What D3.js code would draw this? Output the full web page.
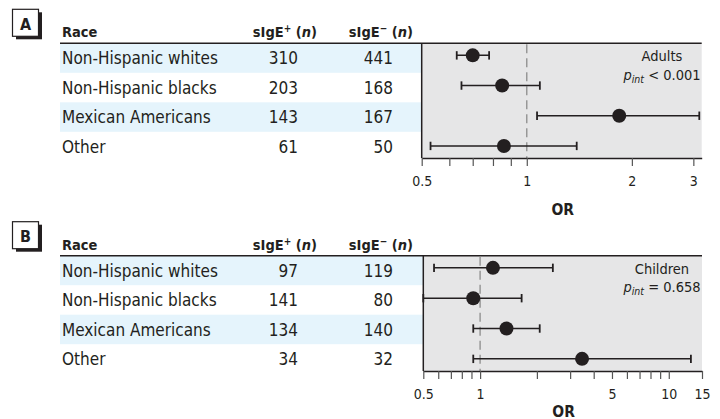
<!DOCTYPE html>
<meta charset="utf-8">
<style>
body { margin: 0; background: #fff; }
svg text { font-family: 'DejaVu Sans Condensed', 'DejaVu Sans', sans-serif; fill: #231f20; }
.hdr { font-weight: bold; font-size: 14.5px; }
</style>
<body>
<script src="https://cdn.jsdelivr.net/npm/d3@7"></script>
<script>
// ---- data ----
var races = ["Non-Hispanic whites", "Non-Hispanic blacks", "Mexican Americans", "Other"];

var adultPos = [310, 203, 143, 61];
var adultNeg = [441, 168, 167, 50];
var adultOR  = [0.70, 0.85, 1.84, 0.86];
var adultLo  = [0.63, 0.65, 1.07, 0.53];
var adultHi  = [0.78, 1.09, 3.12, 1.39];

var childPos = [97, 141, 134, 34];
var childNeg = [119, 80, 140, 32];
var childOR  = [1.17, 0.92, 1.38, 3.47];
var childLo  = [0.57, 0.50, 0.92, 0.92];
var childHi  = [2.43, 1.66, 2.07, 13.1];

var adultTicks  = [0.5, 0.6, 0.7, 0.8, 0.9, 1, 2, 3];
var adultLabels = [0.5, 1, 2, 3];
var childTicks  = [0.5, 0.6, 0.7, 0.8, 0.9, 1, 2, 3, 4, 5, 6, 7, 8, 9, 10, 15];
var childLabels = [0.5, 1, 5, 10, 15];

var svg = d3.select("body").append("svg")
    .attr("width", 720).attr("height", 419);

var ink = "#231f20";

function drawPanel(p) {
  var g = svg.append("g");
  var x = d3.scaleLog().domain(p.domain).range([p.left, p.right]);
  var yRow = d3.scaleBand().domain(races).range([p.top, p.top + 4 * 29.5]);
  var yPt = d3.scalePoint().domain(races).range([p.top, p.bottom]).padding(0.4);
  var rows = races.map(function(r, i) {
    return {race: r, pos: p.pos[i], neg: p.neg[i], or: p.or[i], lo: p.lo[i], hi: p.hi[i], i: i};
  });

  // panel letter box with drop shadow
  g.append("rect").attr("x", 16).attr("y", p.top - 31).attr("width", 26).attr("height", 27).attr("fill", ink);
  g.append("rect").attr("x", 12.5).attr("y", p.top - 34).attr("width", 26).attr("height", 27)
    .attr("fill", "#fff").attr("stroke", ink).attr("stroke-width", 1.2);
  g.append("text").attr("x", 25.5).attr("y", p.top - 13.5).attr("text-anchor", "middle")
    .style("font-weight", "bold").style("font-size", "16px").text(p.letter);

  // shaded table rows
  g.selectAll(".band").data(rows.filter(function(d) { return d.i % 2 == 0; }))
    .enter().append("rect")
    .attr("x", 60).attr("width", p.left - 60)
    .attr("y", function(d) { return yRow(d.race); })
    .attr("height", yRow.bandwidth())
    .attr("fill", "#e5f4fc");

  // plot background
  g.append("rect").attr("x", p.left).attr("y", p.top)
    .attr("width", p.right - p.left).attr("height", p.bottom - p.top)
    .attr("fill", "#e6e6e7");

  // headers
  g.append("text").attr("class", "hdr").attr("x", 62).attr("y", p.top - 6).text("Race");
  [["+", 317], ["\u2212", 413]].forEach(function(h) {
    var t = g.append("text").attr("class", "hdr").attr("x", h[1]).attr("y", p.top - 6).attr("text-anchor", "end");
    t.append("tspan").text("sIgE");
    t.append("tspan").attr("dy", -5).style("font-size", "10px").text(h[0]);
    t.append("tspan").attr("dy", 5).text(" (");
    t.append("tspan").style("font-style", "italic").text("n");
    t.append("tspan").text(")");
  });
  g.append("line").attr("x1", 60).attr("x2", p.right).attr("y1", p.top).attr("y2", p.top)
    .attr("stroke", ink).attr("stroke-width", 1.5);

  // table text
  var cy = function(d) { return yRow(d.race) + yRow.bandwidth() / 2; };
  g.selectAll(".race").data(rows).enter().append("text")
    .attr("x", 62).attr("y", cy).attr("dy", "0.37em")
    .style("font-size", "17px").text(function(d) { return d.race; });
  g.selectAll(".npos").data(rows).enter().append("text")
    .attr("x", 298).attr("y", cy).attr("dy", "0.37em").attr("text-anchor", "end")
    .style("font-size", "17px").text(function(d) { return d.pos; });
  g.selectAll(".nneg").data(rows).enter().append("text")
    .attr("x", 393).attr("y", cy).attr("dy", "0.37em").attr("text-anchor", "end")
    .style("font-size", "17px").text(function(d) { return d.neg; });

  // reference line at OR = 1
  g.append("line").attr("x1", x(1)).attr("x2", x(1)).attr("y1", p.top + 1).attr("y2", p.bottom)
    .attr("stroke", "#8c8c8c").attr("stroke-width", 1.3).attr("stroke-dasharray", "9,5");

  // axis
  var ax = g.append("g").attr("transform", "translate(0," + p.bottom + ")")
    .call(d3.axisBottom(x).tickValues(p.ticks)
      .tickFormat(function(d) { return p.labels.indexOf(d) >= 0 ? d : ""; })
      .tickSize(8).tickSizeOuter(0).tickPadding(10));
  ax.select(".domain").attr("stroke", ink).attr("stroke-width", 1.5);
  ax.selectAll(".tick line").attr("stroke", "#555").attr("stroke-width", 1.2);
  ax.selectAll(".tick text").attr("fill", ink).style("font-size", "14px").attr("font-family", null);
  g.append("line").attr("x1", p.left).attr("x2", p.left).attr("y1", p.top).attr("y2", p.bottom)
    .attr("stroke", ink).attr("stroke-width", 1.5);

  g.append("text").attr("x", (p.left + p.right) / 2 + 1).attr("y", p.bottom + p.orDy)
    .attr("text-anchor", "middle").style("font-weight", "bold").style("font-size", "15.5px").text("OR");

  // error bars and points
  var bars = g.selectAll(".ci").data(rows).enter().append("g");
  bars.append("line")
    .attr("x1", function(d) { return x(d.lo); }).attr("x2", function(d) { return x(d.hi); })
    .attr("y1", function(d) { return yPt(d.race); }).attr("y2", function(d) { return yPt(d.race); })
    .attr("stroke", ink).attr("stroke-width", 1.5);
  ["lo", "hi"].forEach(function(k) {
    bars.append("line")
      .attr("x1", function(d) { return x(d[k]); }).attr("x2", function(d) { return x(d[k]); })
      .attr("y1", function(d) { return yPt(d.race) - 4.2; }).attr("y2", function(d) { return yPt(d.race) + 4.2; })
      .attr("stroke", ink).attr("stroke-width", 1.8);
  });
  bars.append("circle")
    .attr("cx", function(d) { return x(d.or); }).attr("cy", function(d) { return yPt(d.race); })
    .attr("r", 7).attr("fill", ink);

  // annotation
  g.append("text").attr("x", 662).attr("y", p.top + 18).attr("text-anchor", "middle")
    .style("font-size", "14.5px").text(p.group);
  var pt = g.append("text").attr("x", 662).attr("y", p.top + 36.3).attr("text-anchor", "middle")
    .style("font-size", "14.5px");
  pt.append("tspan").style("font-style", "italic").text("p");
  pt.append("tspan").style("font-style", "italic").style("font-size", "10.5px").attr("dy", 3).text("int");
  pt.append("tspan").attr("dy", -3).text(" " + p.pint);
}

drawPanel({letter: "A", group: "Adults", pint: "< 0.001",
  top: 43.3, bottom: 158, left: 421.7, right: 701.7, domain: [0.5, 3.17], orDy: 57,
  pos: adultPos, neg: adultNeg, or: adultOR, lo: adultLo, hi: adultHi,
  ticks: adultTicks, labels: adultLabels});

drawPanel({letter: "B", group: "Children", pint: "= 0.658",
  top: 255.7, bottom: 371, left: 423.3, right: 702, domain: [0.5, 15], orDy: 45.5,
  pos: childPos, neg: childNeg, or: childOR, lo: childLo, hi: childHi,
  ticks: childTicks, labels: childLabels});
</script>
</body>
